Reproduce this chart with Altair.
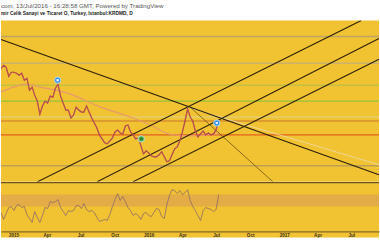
import altair as alt
import pandas as pd

# ---------------- data ----------------
week_start = "2014-11-28"
close = [2.14, 2.17, 2.15, 2.06, 2.10, 2.10, 2.09, 2.07, 2.09, 2.02,
         2.04, 1.92, 1.95, 1.87, 1.81, 1.68, 1.76, 1.81, 1.79, 1.86,
         1.85, 1.94, 1.98, 1.86, 1.79, 1.72, 1.72, 1.64, 1.67, 1.75,
         1.72, 1.70, 1.70, 1.76, 1.70, 1.64, 1.59, 1.54, 1.47, 1.43,
         1.39, 1.38, 1.41, 1.44, 1.50, 1.52, 1.49, 1.48, 1.56, 1.57,
         1.50, 1.47, 1.43, 1.44, 1.36, 1.28, 1.31, 1.29, 1.26, 1.25,
         1.25, 1.27, 1.30, 1.25, 1.20, 1.21, 1.27, 1.33, 1.35, 1.41,
         1.50, 1.61, 1.73, 1.65, 1.61, 1.51, 1.45, 1.48, 1.51, 1.47,
         1.49, 1.47, 1.48, 1.52, 1.62]
rsi = [40.0, 28.3, 38.3, 48.3, 50.0, 43.3, 51.7, 53.3, 48.3, 50.0,
       36.7, 30.0, 23.3, 41.7, 31.7, 23.3, 35.0, 48.3, 46.7, 58.3,
       56.7, 58.3, 61.7, 48.3, 41.7, 35.0, 43.3, 41.7, 43.3, 51.7,
       51.7, 46.7, 55.0, 45.0, 41.7, 43.3, 40.0, 31.7, 25.0, 26.7,
       28.3, 26.7, 36.7, 50.0, 61.7, 71.7, 60.0, 66.7, 58.3, 48.3,
       43.3, 35.0, 38.3, 35.0, 28.3, 38.3, 40.0, 35.0, 33.3, 40.0,
       46.7, 45.0, 33.3, 30.0, 53.3, 68.3, 78.3, 76.7, 71.7, 76.7,
       70.0, 73.3, 78.3, 60.0, 50.0, 43.3, 35.0, 26.7, 43.3, 48.3,
       46.7, 45.0, 41.7, 45.0, 70.0]

ma_dates = ["2014-11-28", "2015-01-01", "2015-02-03", "2015-03-15", "2015-05-27",
            "2015-08-24", "2015-11-20", "2016-01-05", "2016-03-07", "2016-04-22",
            "2016-07-08"]
ma_vals = [1.90, 1.95, 1.98, 1.95, 1.89, 1.75, 1.64, 1.57, 1.47, 1.46, 1.48]

fib_names = ["0", "0.236", "0.382", "0.5", "0.618", "0.786", "1", "level"]
fib_prices = [1.16, 1.47, 1.65, 1.81, 1.97, 2.19, 2.46, 1.61]
fib_colors = ["#b79c5a", "#e0561c", "#e3cf72", "#8cc43c", "#bcc046", "#c8b070", "#b8a26c", "#d08a30"]

trend_names = ["L1", "A", "B", "C", "steep", "faint"]
trend_start_dates = ["2014-11-28", "2015-03-07", "2015-08-15", "2015-11-20", "2016-04-22", "2016-04-22"]
trend_start_prices = [2.43, 1.00, 1.00, 1.00, 1.75, 1.74]
trend_end_dates = ["2017-09-14", "2017-07-28", "2017-09-14", "2017-09-14", "2016-12-01", "2017-09-14"]
trend_end_prices = [1.07, 2.62, 2.44, 2.23, 1.00, 1.17]

marker_dates = ["2015-04-30", "2015-12-12", "2016-07-03"]
marker_prices = [2.02, 1.43, 1.59]
marker_kinds = ["blue", "green", "blue"]

tick_dates = ["2015-01-01", "2015-04-01", "2015-07-01", "2015-10-01",
              "2016-01-01", "2016-04-01", "2016-07-01", "2016-10-01",
              "2017-01-01", "2017-04-01", "2017-07-01"]

header_line1 = "com, 13/Jul/2016 - 16:28:58 GMT, Powered by TradingView"
header_line2 = "mir Celik Sanayi ve Ticaret O, Turkey, Istanbul:KRDMD, D"

# ---------------- frames ----------------
price_df = pd.DataFrame({"date": pd.date_range(week_start, periods=len(close), freq="7D"),
                         "close": close, "rsi": rsi})
ma_df = pd.DataFrame({"date": pd.to_datetime(ma_dates), "ma": ma_vals})
fib_df = pd.DataFrame({"name": fib_names, "price": fib_prices})
rows = []
for n, sd, sp, ed, ep in zip(trend_names, trend_start_dates, trend_start_prices,
                             trend_end_dates, trend_end_prices):
    rows.append({"name": n, "date": pd.Timestamp(sd), "price": sp})
    rows.append({"name": n, "date": pd.Timestamp(ed), "price": ep})
trend_df = pd.DataFrame(rows)
marker_df = pd.DataFrame({"date": pd.to_datetime(marker_dates), "price": marker_prices,
                          "kind": marker_kinds})


def dt(s):
    t = pd.Timestamp(s)
    return alt.DateTime(year=t.year, month=t.month, date=t.day)


x_dom = [dt("2014-11-28"), dt("2017-09-14")]
xs = alt.Scale(domain=x_dom, nice=False)
ys = alt.Scale(domain=[1.0, 2.62], nice=False, zero=False)

X = alt.X("date:T", scale=xs, axis=None)
W = 380

fib = alt.Chart(fib_df).mark_rule(strokeWidth=1.4, opacity=0.9, clip=True).encode(
    y=alt.Y("price:Q", scale=ys, axis=None),
    color=alt.Color("name:N", scale=alt.Scale(domain=fib_names, range=fib_colors), legend=None),
)

ma = alt.Chart(ma_df).mark_line(color="#e89a6c", strokeWidth=1.2, interpolate="monotone",
                                clip=True).encode(
    x=X, y=alt.Y("ma:Q", scale=ys, axis=None))

trend_black = alt.Chart(trend_df).transform_filter(
    alt.FieldOneOfPredicate(field="name", oneOf=["L1", "A", "B", "C"])
).mark_line(color="#2a1f0a", strokeWidth=1.1, clip=True).encode(
    x=X, y=alt.Y("price:Q", scale=ys, axis=None), detail="name:N")
trend_steep = alt.Chart(trend_df).transform_filter(
    alt.FieldEqualPredicate(field="name", equal="steep")
).mark_line(color="#6e5214", strokeWidth=0.8, clip=True).encode(
    x=X, y=alt.Y("price:Q", scale=ys, axis=None))
trend_faint = alt.Chart(trend_df).transform_filter(
    alt.FieldEqualPredicate(field="name", equal="faint")
).mark_line(color="#ecd9a0", strokeWidth=0.9, clip=True).encode(
    x=X, y=alt.Y("price:Q", scale=ys, axis=None))

price_line = alt.Chart(price_df).mark_line(color="#9a3566", strokeWidth=1.2, clip=True).encode(
    x=X, y=alt.Y("close:Q", scale=ys, axis=None))
price_line2 = alt.Chart(price_df).mark_line(color="#e8702a", strokeWidth=0.6, opacity=0.8,
                                            clip=True).encode(
    x=X, y=alt.Y("close:Q", scale=ys, axis=None))

mk_outer = alt.Chart(marker_df).mark_point(filled=True, shape="circle", size=40,
                                           stroke="#cfe6f8", strokeWidth=0.8, opacity=1).encode(
    x=X, y=alt.Y("price:Q", scale=ys, axis=None),
    color=alt.Color("kind:N", scale=alt.Scale(domain=["blue", "green"], range=["#2d8fe4", "#4fb04a"]), legend=None))
mk_inner = alt.Chart(marker_df).mark_point(filled=True, shape="square", size=5, opacity=1).encode(
    x=X, y=alt.Y("price:Q", scale=ys, axis=None),
    color=alt.Color("kind:N", scale=alt.Scale(domain=["blue", "green"], range=["#ffffff", "#237a23"]), legend=None))

main = alt.layer(fib, ma, trend_faint, trend_steep, trend_black, price_line, price_line2,
                 mk_outer, mk_inner).properties(width=W, height=162).resolve_scale(color="independent")

# RSI pane
rs = alt.Scale(domain=[-1.67, 90], nice=False, zero=False)
band_df = pd.DataFrame({"lo": [50], "hi": [70]})
band = alt.Chart(band_df).mark_rect(color="#e0a84a", opacity=0.85).encode(
    y=alt.Y("lo:Q", scale=rs, axis=None), y2="hi:Q")
sep_df = pd.DataFrame({"v": [90]})
sep = alt.Chart(sep_df).mark_rule(color="#6b5322", strokeWidth=1.2).encode(
    y=alt.Y("v:Q", scale=rs, axis=None))
rsi_line = alt.Chart(price_df).mark_line(color="#8e6a6a", strokeWidth=0.8, clip=True).encode(
    x=alt.X("date:T", scale=xs,
            axis=alt.Axis(values=[dt(d) for d in tick_dates], offset=-6, domainColor="#6b5322",
                          domainWidth=1, ticks=False, grid=False, labelPadding=1,
                          labelFontSize=4.6, labelFontWeight="bold", labelColor="#3a3320",
                          labelFont="Liberation Sans", labelFlush=False, labelOverlap=False,
                          labelExpr="month(datum.value) == 0 ? timeFormat(datum.value, '%Y') : timeFormat(datum.value, '%b')",
                          title=None)),
    y=alt.Y("rsi:Q", scale=rs, axis=None))
rsi_pane = alt.layer(band, sep, rsi_line).properties(width=W, height=55)

chart = alt.vconcat(main, rsi_pane, spacing=0).properties(
    title=alt.TitleParams(text=header_line1, subtitle=header_line2, anchor="start",
                          fontSize=6.2, subtitleFontSize=4.9, font="Liberation Sans",
                          subtitleFont="Liberation Sans", fontWeight="normal",
                          subtitleFontWeight="bold", color="#555555", subtitleColor="#222222",
                          offset=4.3, subtitlePadding=2.4, frame="group"),
    padding={"left": 0, "right": 0, "top": 2, "bottom": 3},
    background="#ffffff",
).configure_view(fill="#f1c232", stroke=None).configure_concat(spacing=0)

chart.save("out.html", embed_options={"renderer": "svg", "actions": False})
